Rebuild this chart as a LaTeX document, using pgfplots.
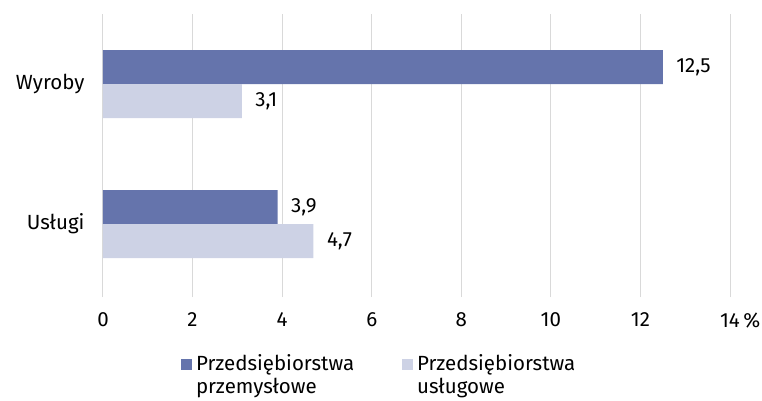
\documentclass[border=0pt]{standalone}
\usepackage{fontspec}
\setmainfont{Fira Sans}
\usepackage{pgfplots}
\pgfplotsset{compat=1.18}
\definecolor{dk}{HTML}{6574AC}
\definecolor{lt}{HTML}{CDD2E5}
\definecolor{gr}{HTML}{D9D9D9}
\begin{document}
\begin{tikzpicture}[font=\fontsize{20.5}{23.5}\selectfont]
\useasboundingbox (-103pt,-104pt) rectangle (659pt,297pt);
\begin{axis}[
 at={(0pt,0pt)}, anchor=south west,
 scale only axis, width=627pt, height=283pt,
 xmin=0, xmax=14, ymin=-0.52, ymax=1.5,
 xbar, bar width=34pt,
 axis line style={draw=none},
 major tick length=0pt,
 xtick={0,2,...,14}, xticklabels={0,2,4,6,8,10,12,14\rlap{\,\%}},
 ytick={0,1}, yticklabels={Usługi,Wyroby},
 xmajorgrids, grid style={gr, line width=1pt},
 /pgf/number format/assume math mode=true,
 xticklabel style={yshift=-12pt},
 yticklabel style={xshift=-15pt},
 nodes near coords={\pgfmathprintnumber[use comma,fixed,fixed zerofill,precision=1,assume math mode=true]{\pgfplotspointmeta}},
 nodes near coords align={horizontal},
 every node near coord/.append style={xshift=10pt, text=black},
 legend columns=2,
 legend style={at={(0.046,-0.188)}, anchor=north west, draw=none, fill=none,
   cells={align=left}},
 legend image code/.code={\path (-46pt,0pt) (13pt,0pt); \fill[#1] (0pt,5pt) rectangle (11pt,16pt);},
 clip=false,
]
\addplot[fill=dk, draw=none, bar shift=17pt] coordinates {(3.9,0) (12.5,1)};
\addplot[fill=lt, draw=none, bar shift=-17pt] coordinates {(4.7,0) (3.1,1)};
\legend{Przedsiębiorstwa\\przemysłowe, Przedsiębiorstwa\\usługowe}
\end{axis}
\end{tikzpicture}
\end{document}
